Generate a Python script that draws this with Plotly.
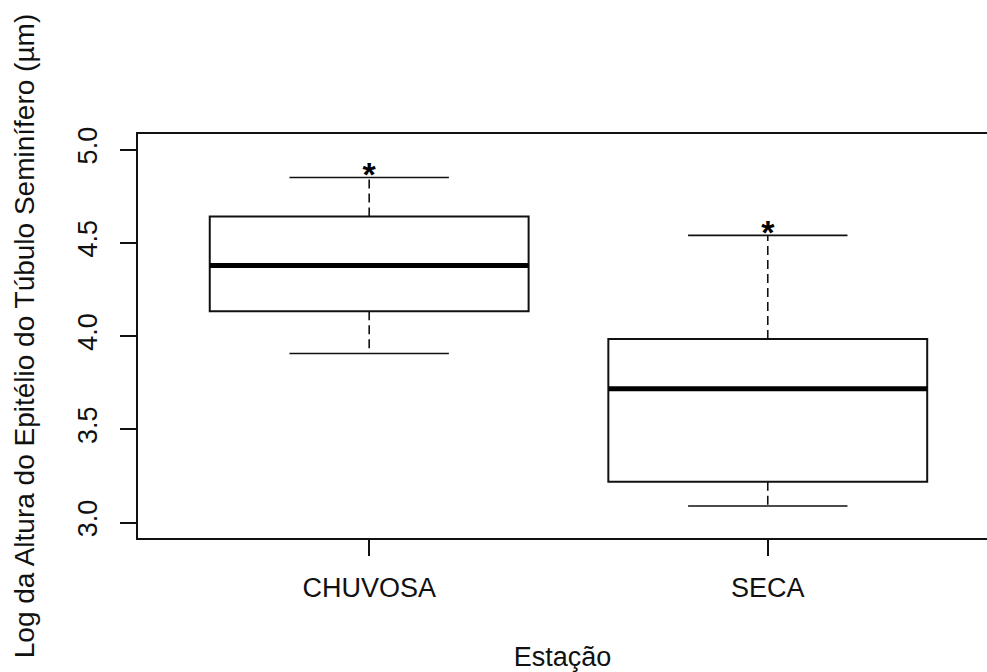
import plotly.graph_objects as go

# Summary statistics per season (log epithelium height)
estacoes = ["CHUVOSA", "SECA"]
posicoes = [1, 2]
minimo = [3.907, 3.089]
q1 = [4.133, 3.219]
mediana = [4.378, 3.718]
q3 = [4.642, 3.984]
maximo = [4.851, 4.540]
marca = ["<b>*</b>", "<b>*</b>"]

y_ticks = [3.0, 3.5, 4.0, 4.5, 5.0]
y_tick_text = ["3.0", "3.5", "4.0", "4.5", "5.0"]

BOX_W = 0.8
CAP_W = 0.4
FONT = "Liberation Sans, Arial, sans-serif"
INK = "#111111"

fig = go.Figure()

# Boxes (whiskers collapsed onto the box; drawn dashed separately below)
for i, nome in enumerate(estacoes):
    fig.add_trace(go.Box(
        x=[posicoes[i]],
        q1=[q1[i]], median=[mediana[i]], q3=[q3[i]],
        lowerfence=[q1[i]], upperfence=[q3[i]],
        width=BOX_W, whiskerwidth=0,
        fillcolor="white",
        line=dict(color=INK, width=2),
        boxpoints=False, hoverinfo="skip", showlegend=False, name=nome,
    ))

for i in range(len(estacoes)):
    x0 = posicoes[i]
    # thick median bar
    fig.add_trace(go.Scatter(
        x=[x0 - BOX_W / 2, x0 + BOX_W / 2], y=[mediana[i], mediana[i]],
        mode="lines", line=dict(color="black", width=5),
        hoverinfo="skip", showlegend=False,
    ))
    # dashed whiskers
    for a, b in ((q3[i], maximo[i]), (q1[i], minimo[i])):
        fig.add_trace(go.Scatter(
            x=[x0, x0], y=[a, b], mode="lines",
            line=dict(color=INK, width=1.6, dash="9px,5px"),
            hoverinfo="skip", showlegend=False,
        ))
    # staples
    for v in (maximo[i], minimo[i]):
        fig.add_trace(go.Scatter(
            x=[x0 - CAP_W / 2, x0 + CAP_W / 2], y=[v, v], mode="lines",
            line=dict(color=INK, width=1.6),
            hoverinfo="skip", showlegend=False,
        ))

# asterisks on the upper whiskers
fig.add_trace(go.Scatter(
    x=posicoes, y=maximo, mode="text", text=marca,
    textposition="middle center",
    textfont=dict(family=FONT, size=34, color="black"),
    hoverinfo="skip", showlegend=False,
))

fig.update_layout(
    width=987, height=672,
    margin=dict(l=138, r=0, t=134, b=134),
    paper_bgcolor="white", plot_bgcolor="white",
    font=dict(family=FONT, size=27, color=INK),
    xaxis=dict(
        range=[0.42, 2.55],
        tickmode="array", tickvals=posicoes, ticktext=estacoes,
        ticks="outside", ticklen=16, tickwidth=1.5, tickcolor=INK,
        ticklabelstandoff=9,
        showline=True, linecolor=INK, linewidth=1.5, mirror=True,
        showgrid=False, zeroline=False,
        tickfont=dict(size=27),
        title=dict(text="Estação", font=dict(size=27), standoff=45),
    ),
    yaxis=dict(
        range=[2.917, 5.084],
        tickmode="array", tickvals=y_ticks, ticktext=y_tick_text,
        tickangle=-90,
        ticks="outside", ticklen=16, tickwidth=1.5, tickcolor=INK,
        ticklabelstandoff=12,
        showline=True, linecolor=INK, linewidth=1.5, mirror=False,
        showgrid=False, zeroline=False,
        tickfont=dict(size=27),
        title=dict(text="Log da Altura do Epitélio do Túbulo Seminífero (µm)",
                   font=dict(size=28), standoff=31),
    ),
)

fig.write_html("out.html")
